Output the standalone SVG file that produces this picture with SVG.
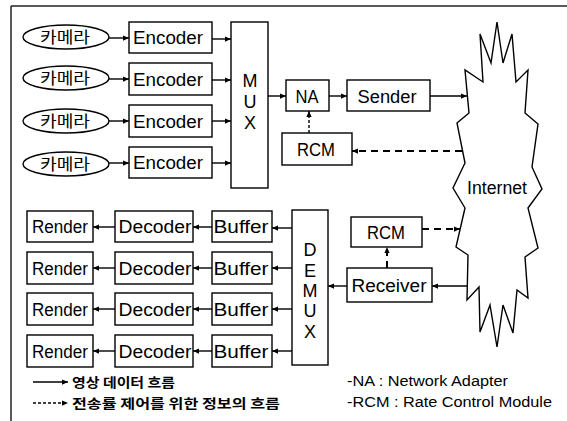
<svg xmlns="http://www.w3.org/2000/svg" width="567" height="421" viewBox="0 0 567 421">
  <defs>
    <marker id="arr" viewBox="0 0 8 8" refX="8" refY="4" markerWidth="7" markerHeight="6" markerUnits="userSpaceOnUse" orient="auto">
      <path d="M0,0.5 L8,4 L0,7.5 z" fill="#000"/>
    </marker>
    <style>
      .box { fill: #fff; stroke: #000; stroke-width: 1.4; }
      .lbl { font-family: "Liberation Sans", Arial, sans-serif; font-size: 18px; fill: #000; text-anchor: middle; }
      .kr { font-family: "Noto Sans CJK KR", sans-serif; font-size: 16px; fill: #000; text-anchor: middle; }
      .flow { stroke: #000; stroke-width: 1.4; fill: none; marker-end: url(#arr); }
      .ctrl { stroke: #000; stroke-width: 2; fill: none; stroke-dasharray: 7 5; marker-end: url(#arr); }
      .ctrl2 { stroke: #000; stroke-width: 1.4; fill: none; stroke-dasharray: 3 2; marker-end: url(#arr); }
      .leg { font-family: "Noto Sans CJK KR", sans-serif; font-size: 13px; font-weight: bold; fill: #000; }
      .note { font-family: "Liberation Sans", Arial, sans-serif; font-size: 14px; fill: #000; }
    </style>
  </defs>

  <rect width="567" height="421" fill="#fff"/>

  <!-- frame -->
  <g id="frame" stroke="#222" stroke-width="1.5">
    <line x1="11" y1="6" x2="567" y2="6"/>
    <line x1="11" y1="6" x2="11" y2="421"/>
  </g>

  <!-- cameras -->
  <g id="cam1"><ellipse cx="66" cy="37" rx="43" ry="12" class="box"/><text x="65" y="43" class="kr" textLength="50" lengthAdjust="spacingAndGlyphs">카메라</text></g>
  <g id="cam2"><ellipse cx="66" cy="78" rx="43" ry="12" class="box"/><text x="65" y="84" class="kr" textLength="50" lengthAdjust="spacingAndGlyphs">카메라</text></g>
  <g id="cam3"><ellipse cx="66" cy="121" rx="43" ry="12" class="box"/><text x="65" y="127" class="kr" textLength="50" lengthAdjust="spacingAndGlyphs">카메라</text></g>
  <g id="cam4"><ellipse cx="66" cy="164" rx="43" ry="12" class="box"/><text x="65" y="170" class="kr" textLength="50" lengthAdjust="spacingAndGlyphs">카메라</text></g>

  <!-- encoders -->
  <g id="enc1"><rect x="129" y="22" width="83" height="31" class="box"/><text x="168" y="44" class="lbl" textLength="70" lengthAdjust="spacingAndGlyphs">Encoder</text></g>
  <g id="enc2"><rect x="129" y="63" width="83" height="32" class="box"/><text x="168" y="86" class="lbl" textLength="70" lengthAdjust="spacingAndGlyphs">Encoder</text></g>
  <g id="enc3"><rect x="129" y="105" width="83" height="32" class="box"/><text x="168" y="128" class="lbl" textLength="70" lengthAdjust="spacingAndGlyphs">Encoder</text></g>
  <g id="enc4"><rect x="129" y="147" width="83" height="31" class="box"/><text x="168" y="169" class="lbl" textLength="70" lengthAdjust="spacingAndGlyphs">Encoder</text></g>

  <!-- MUX -->
  <g id="mux">
    <rect x="231" y="22" width="37" height="166" class="box"/>
    <text x="250" y="87" class="lbl">M</text>
    <text x="250" y="108" class="lbl">U</text>
    <text x="250" y="129" class="lbl">X</text>
  </g>

  <g id="na"><rect x="286" y="80" width="43" height="31" class="box"/><text x="307" y="103" class="lbl" textLength="23" lengthAdjust="spacingAndGlyphs">NA</text></g>
  <g id="sender"><rect x="347" y="80" width="83" height="31" class="box"/><text x="387" y="103" class="lbl" textLength="59" lengthAdjust="spacingAndGlyphs">Sender</text></g>
  <g id="rcm-send"><rect x="282" y="133" width="70" height="32" class="box"/><text x="316" y="156" class="lbl" textLength="38" lengthAdjust="spacingAndGlyphs">RCM</text></g>

  <!-- Internet -->
  <g id="internet">
    <polygon class="box" points="497,22 503,63 512,34 516,82 528,70 525,113 538,124 532,167 542,189 528,208 538,248 525,257 528,298 517,290 513,333 503,305 497,347 490,305 480,332 479,287 467,300 468,255 456,247 465,208 453,188 465,163 457,123 469,113 465,70 483,82 480,34 491,63"/>
    <text x="497" y="194" class="lbl" textLength="60" lengthAdjust="spacingAndGlyphs">Internet</text>
  </g>

  <g id="rcm-recv"><rect x="351" y="217" width="71" height="30" class="box"/><text x="386" y="239" class="lbl" textLength="38" lengthAdjust="spacingAndGlyphs">RCM</text></g>
  <g id="receiver"><rect x="347" y="268" width="85" height="34" class="box"/><text x="389" y="292" class="lbl" textLength="75" lengthAdjust="spacingAndGlyphs">Receiver</text></g>

  <!-- DEMUX -->
  <g id="demux">
    <rect x="292" y="210" width="36" height="155" class="box"/>
    <text x="310" y="256" class="lbl">D</text>
    <text x="310" y="277" class="lbl">E</text>
    <text x="310" y="297" class="lbl">M</text>
    <text x="310" y="317" class="lbl">U</text>
    <text x="310" y="338" class="lbl">X</text>
  </g>

  <!-- buffers -->
  <g id="buf1"><rect x="212" y="211" width="60" height="31" class="box"/><text x="241" y="233" class="lbl" textLength="55" lengthAdjust="spacingAndGlyphs">Buffer</text></g>
  <g id="buf2"><rect x="212" y="252" width="60" height="32" class="box"/><text x="241" y="275" class="lbl" textLength="55" lengthAdjust="spacingAndGlyphs">Buffer</text></g>
  <g id="buf3"><rect x="212" y="293" width="60" height="32" class="box"/><text x="241" y="316" class="lbl" textLength="55" lengthAdjust="spacingAndGlyphs">Buffer</text></g>
  <g id="buf4"><rect x="212" y="335" width="60" height="32" class="box"/><text x="241" y="358" class="lbl" textLength="55" lengthAdjust="spacingAndGlyphs">Buffer</text></g>

  <!-- decoders -->
  <g id="dec1"><rect x="115" y="211" width="78" height="31" class="box"/><text x="155" y="233" class="lbl" textLength="73" lengthAdjust="spacingAndGlyphs">Decoder</text></g>
  <g id="dec2"><rect x="115" y="252" width="78" height="32" class="box"/><text x="155" y="275" class="lbl" textLength="73" lengthAdjust="spacingAndGlyphs">Decoder</text></g>
  <g id="dec3"><rect x="115" y="293" width="78" height="32" class="box"/><text x="155" y="316" class="lbl" textLength="73" lengthAdjust="spacingAndGlyphs">Decoder</text></g>
  <g id="dec4"><rect x="115" y="335" width="78" height="32" class="box"/><text x="155" y="358" class="lbl" textLength="73" lengthAdjust="spacingAndGlyphs">Decoder</text></g>

  <!-- renderers -->
  <g id="ren1"><rect x="27" y="211" width="66" height="31" class="box"/><text x="60" y="233" class="lbl" textLength="56" lengthAdjust="spacingAndGlyphs">Render</text></g>
  <g id="ren2"><rect x="27" y="252" width="66" height="32" class="box"/><text x="60" y="275" class="lbl" textLength="56" lengthAdjust="spacingAndGlyphs">Render</text></g>
  <g id="ren3"><rect x="27" y="293" width="66" height="32" class="box"/><text x="60" y="316" class="lbl" textLength="56" lengthAdjust="spacingAndGlyphs">Render</text></g>
  <g id="ren4"><rect x="27" y="335" width="66" height="32" class="box"/><text x="60" y="358" class="lbl" textLength="56" lengthAdjust="spacingAndGlyphs">Render</text></g>

  <!-- connectors -->
  <g id="connectors">
    <line x1="109" y1="38" x2="129" y2="38" class="flow"/>
    <line x1="109" y1="79" x2="129" y2="79" class="flow"/>
    <line x1="109" y1="121" x2="129" y2="121" class="flow"/>
    <line x1="109" y1="163" x2="129" y2="163" class="flow"/>

    <line x1="212" y1="39" x2="231" y2="39" class="flow"/>
    <line x1="212" y1="80" x2="231" y2="80" class="flow"/>
    <line x1="212" y1="121" x2="231" y2="121" class="flow"/>
    <line x1="212" y1="163" x2="231" y2="163" class="flow"/>

    <line x1="268" y1="96" x2="286" y2="96" class="flow"/>
    <line x1="329" y1="96" x2="347" y2="96" class="flow"/>
    <line x1="430" y1="96" x2="467" y2="96" class="flow"/>
    <line x1="309" y1="133" x2="309" y2="111" class="ctrl2"/>
    <line x1="462" y1="151" x2="352" y2="151" class="ctrl"/>

    <line x1="422" y1="229" x2="460" y2="229" class="ctrl"/>
    <line x1="387" y1="268" x2="387" y2="247" class="ctrl"/>
    <line x1="467" y1="286" x2="432" y2="286" class="flow"/>
    <line x1="347" y1="286" x2="328" y2="286" class="flow"/>

    <line x1="292" y1="228" x2="272" y2="228" class="flow"/>
    <line x1="292" y1="268" x2="272" y2="268" class="flow"/>
    <line x1="292" y1="309" x2="272" y2="309" class="flow"/>
    <line x1="292" y1="351" x2="272" y2="351" class="flow"/>

    <line x1="212" y1="227" x2="193" y2="227" class="flow"/>
    <line x1="212" y1="268" x2="193" y2="268" class="flow"/>
    <line x1="212" y1="309" x2="193" y2="309" class="flow"/>
    <line x1="212" y1="351" x2="193" y2="351" class="flow"/>

    <line x1="115" y1="227" x2="93" y2="227" class="flow"/>
    <line x1="115" y1="268" x2="93" y2="268" class="flow"/>
    <line x1="115" y1="309" x2="93" y2="309" class="flow"/>
    <line x1="115" y1="351" x2="93" y2="351" class="flow"/>
  </g>

  <!-- legend -->
  <g id="legend">
    <line x1="33" y1="382" x2="68" y2="382" class="flow"/>
    <text x="72" y="387" class="leg" textLength="103" lengthAdjust="spacingAndGlyphs">영상 데이터 흐름</text>
    <line x1="33" y1="403" x2="68" y2="403" class="ctrl2"/>
    <text x="72" y="408" class="leg" textLength="208" lengthAdjust="spacingAndGlyphs">전송률 제어를 위한 정보의 흐름</text>
    <text x="347" y="386" class="note" textLength="161" lengthAdjust="spacingAndGlyphs">-NA : Network Adapter</text>
    <text x="347" y="407" class="note" textLength="205" lengthAdjust="spacingAndGlyphs">-RCM : Rate Control Module</text>
  </g>
</svg>
